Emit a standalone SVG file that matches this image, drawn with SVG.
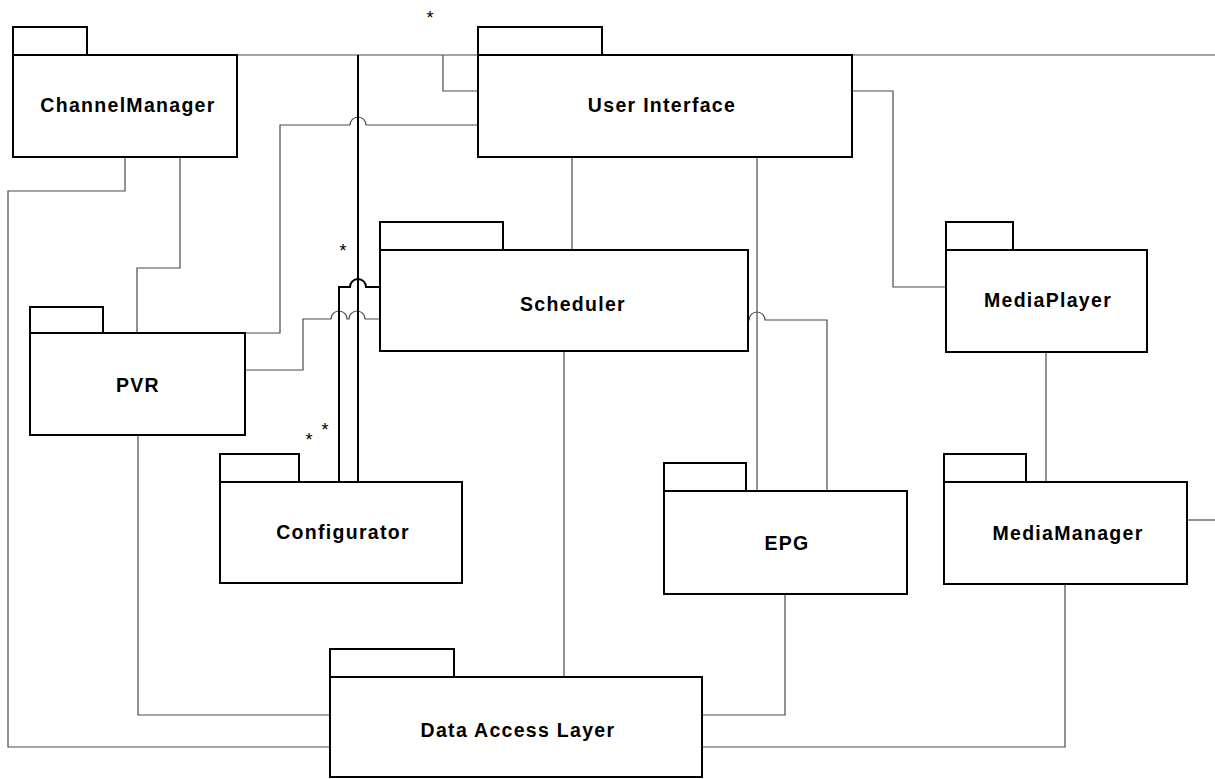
<svg xmlns="http://www.w3.org/2000/svg" width="1215" height="779" viewBox="0 0 1215 779">
<style>
.box{fill:#fff;stroke:#000;stroke-width:2}
.lbl{font-family:"Liberation Sans",Arial,sans-serif;font-weight:bold;font-size:19.5px;letter-spacing:1.3px;text-anchor:middle;fill:#000}
.c{fill:none;stroke:#4a4a4a;stroke-width:1.2}
.ck{fill:none;stroke:#000;stroke-width:2}
.star{font-family:"Liberation Sans",Arial,sans-serif;font-size:18px;text-anchor:middle;fill:#000}
</style>
<rect width="1215" height="779" fill="#fff"/>
<g id="connectors">
<path class="c" d="M237,55 H1215"/>
<path class="c" d="M1187,520 H1215"/>
<path class="c" d="M180,157 V268 H137 V333"/>
<path class="c" d="M125,157 V191 H8 V747 H330"/>
<path class="c" d="M443,55 V91 H478"/>
<path class="c" d="M245,333 H280 V125 H350 A8,8 0 0 1 366,125 H478"/>
<path class="c" d="M245,370 H303 V319 H331 A8,8 0 0 1 347,319 H349 A8,8 0 0 1 365,319 H380"/>
<path class="ck" d="M358,482 V55"/>
<path class="ck" d="M339,482 V287 H350 A8,8 0 0 1 366,287 H380"/>
<path class="c" d="M572,157 V249"/>
<path class="c" d="M757,157 V491"/>
<path class="c" d="M852,91 H893 V287 H946"/>
<path class="c" d="M748,320 H749 A8,8 0 0 1 765,320 H827 V491"/>
<path class="c" d="M564,351 V677"/>
<path class="c" d="M138,435 V715 H330"/>
<path class="c" d="M785,594 V715 H702"/>
<path class="c" d="M1065,584 V747 H702"/>
<path class="c" d="M1046,352 V482"/>
<text class="star" x="430" y="24">*</text>
<text class="star" x="343" y="257">*</text>
<text class="star" x="309" y="446">*</text>
<text class="star" x="325" y="436">*</text>
</g>
<g id="ChannelManager">
<rect class="box" x="13" y="27" width="74" height="28"/>
<rect class="box" x="13" y="55" width="224" height="102"/>
<text class="lbl" x="128" y="112">ChannelManager</text>
</g>
<g id="UserInterface">
<rect class="box" x="478" y="27" width="124" height="28"/>
<rect class="box" x="478" y="55" width="374" height="102"/>
<text class="lbl" x="662" y="112">User Interface</text>
</g>
<g id="Scheduler">
<rect class="box" x="380" y="222" width="123" height="28"/>
<rect class="box" x="380" y="250" width="368" height="101"/>
<text class="lbl" x="573" y="311">Scheduler</text>
</g>
<g id="PVR">
<rect class="box" x="30" y="307" width="73" height="26"/>
<rect class="box" x="30" y="333" width="215" height="102"/>
<text class="lbl" x="138" y="392">PVR</text>
</g>
<g id="Configurator">
<rect class="box" x="220" y="454" width="79" height="28"/>
<rect class="box" x="220" y="482" width="242" height="101"/>
<text class="lbl" x="343" y="539">Configurator</text>
</g>
<g id="EPG">
<rect class="box" x="664" y="463" width="82" height="28"/>
<rect class="box" x="664" y="491" width="243" height="103"/>
<text class="lbl" x="787" y="550">EPG</text>
</g>
<g id="MediaPlayer">
<rect class="box" x="946" y="222" width="67" height="28"/>
<rect class="box" x="946" y="250" width="201" height="102"/>
<text class="lbl" x="1048" y="307">MediaPlayer</text>
</g>
<g id="MediaManager">
<rect class="box" x="944" y="454" width="82" height="28"/>
<rect class="box" x="944" y="482" width="243" height="102"/>
<text class="lbl" x="1068" y="540">MediaManager</text>
</g>
<g id="DataAccessLayer">
<rect class="box" x="330" y="649" width="124" height="28"/>
<rect class="box" x="330" y="677" width="372" height="100"/>
<text class="lbl" x="518" y="737">Data Access Layer</text>
</g>
</svg>
